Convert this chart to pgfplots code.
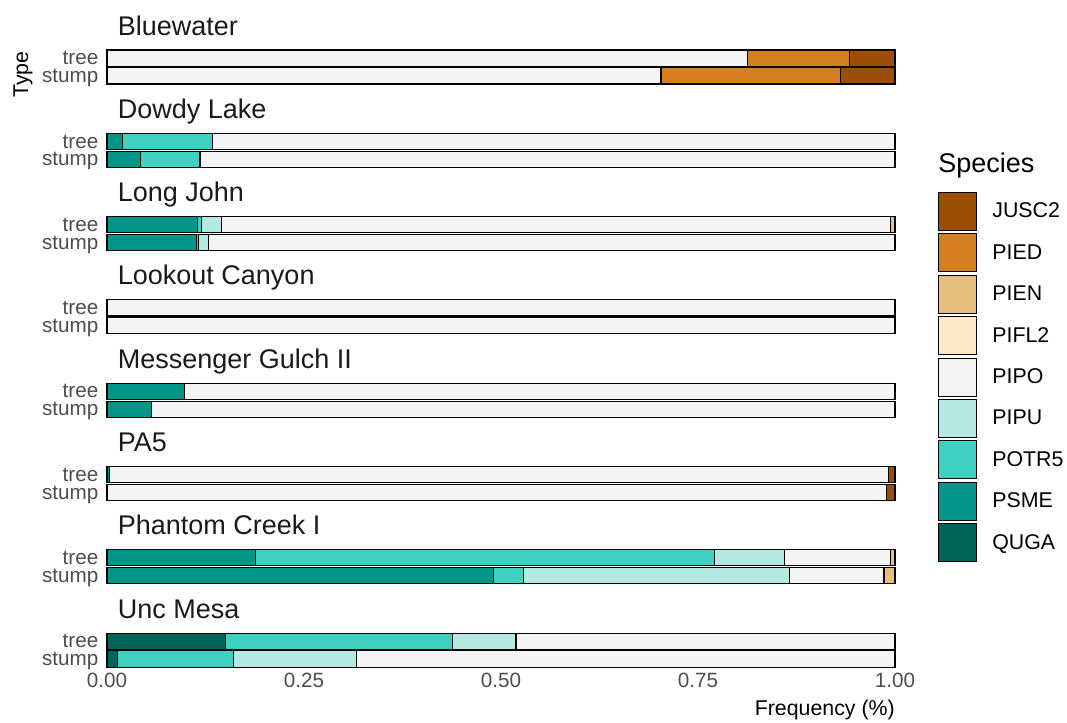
\documentclass[border=0pt]{standalone}
\usepackage{fontspec}
\setmainfont{Liberation Sans}
\usepackage{pgfplots}
\usepackage{pgfplotstable}
\pgfplotsset{compat=1.18}
\usepgfplotslibrary{groupplots}

\definecolor{cJUSC2}{HTML}{9C4F02}
\definecolor{cPIED}{HTML}{D48020}
\definecolor{cPIEN}{HTML}{E6BE7D}
\definecolor{cPIFL2}{HTML}{FEE8C8}
\definecolor{cPIPO}{HTML}{F4F4F4}
\definecolor{cPIPU}{HTML}{B4E8E2}
\definecolor{cPOTR5}{HTML}{3ED0C0}
\definecolor{cPSME}{HTML}{00968A}
\definecolor{cQUGA}{HTML}{00645A}
\definecolor{tickgray}{HTML}{4D4D4D}
\definecolor{stripgray}{HTML}{1A1A1A}

% rows: y=1 stump, y=2 tree
\pgfplotstableread{
y QUGA PSME POTR5 PIPU PIPO PIFL2 PIEN PIED JUSC2
1 0 0 0 0 0.703 0 0 0.228 0.069
2 0 0 0 0 0.813 0 0 0.129 0.058
}\tBluewater
\pgfplotstableread{
y QUGA PSME POTR5 PIPU PIPO PIFL2 PIEN PIED JUSC2
1 0 0.043 0.075 0 0.882 0 0 0 0
2 0 0.020 0.114 0 0.866 0 0 0 0
}\tDowdy
\pgfplotstableread{
y QUGA PSME POTR5 PIPU PIPO PIFL2 PIEN PIED JUSC2
1 0 0.113 0.003 0.013 0.871 0 0 0 0
2 0 0.115 0.005 0.025 0.849 0 0.006 0 0
}\tLongJohn
\pgfplotstableread{
y QUGA PSME POTR5 PIPU PIPO PIFL2 PIEN PIED JUSC2
1 0 0 0 0 1 0 0 0 0
2 0 0 0 0 1 0 0 0 0
}\tLookout
\pgfplotstableread{
y QUGA PSME POTR5 PIPU PIPO PIFL2 PIEN PIED JUSC2
1 0 0.056 0 0 0.944 0 0 0 0
2 0 0.098 0 0 0.902 0 0 0 0
}\tMessenger
\pgfplotstableread{
y QUGA PSME POTR5 PIPU PIPO PIFL2 PIEN PIED JUSC2
1 0 0 0 0 0.989 0 0 0 0.011
2 0 0.003 0 0 0.989 0 0 0 0.008
}\tPA
\pgfplotstableread{
y QUGA PSME POTR5 PIPU PIPO PIFL2 PIEN PIED JUSC2
1 0 0.490 0.039 0.337 0.120 0 0.014 0 0
2 0 0.188 0.583 0.089 0.134 0 0.006 0 0
}\tPhantom
\pgfplotstableread{
y QUGA PSME POTR5 PIPU PIPO PIFL2 PIEN PIED JUSC2
1 0.013 0 0.147 0.157 0.683 0 0 0 0
2 0.150 0 0.288 0.081 0.481 0 0 0 0
}\tUnc

\newcommand{\panel}[1]{%
  \pgfplotsinvokeforeach{QUGA,PSME,POTR5,PIPU,PIPO,PIFL2,PIEN,PIED,JUSC2}{%
    \addplot[fill=c##1, draw=black] table[x=##1, y=y] {#1};}%
}

\pgfplotsset{
  sqlegend/.style={legend image code/.code={%
    \draw[##1, draw=black, line width=0.75pt] (0pt,-14.25pt) rectangle (28.5pt,14.25pt);}},
}

\begin{document}
\begin{tikzpicture}
\begin{groupplot}[
  group style={group size=1 by 8, vertical sep=34.28pt,
    xticklabels at=edge bottom, xlabels at=edge bottom},
  width=591pt, height=28.19pt, scale only axis,
  xmin=0, xmax=1, ymin=0.45, ymax=2.55,
  xbar stacked, /pgf/bar width=0.9,
  every axis plot post/.append style={sqlegend, line width=0.8pt},
  ytick={1,2}, yticklabels={stump,tree},
  xtick={0,0.25,0.5,0.75,1}, xticklabels={0.00,0.25,0.50,0.75,1.00},
  axis line style={draw=none}, major tick length=0pt, tick style={draw=none},
  ticklabel style={font=\fontsize{15.5}{18}\selectfont, text=tickgray},
  yticklabel style={text depth=0pt, inner sep=0pt, xshift=-6.3pt},
  clip=false,
  title style={at={(axis description cs:0,1)}, anchor=base west, xshift=8pt, yshift=3.9pt,
    inner sep=0pt, font=\fontsize{20.25}{24}\selectfont, text=stripgray},
  xlabel style={at={(axis description cs:1,0)}, anchor=base east, yshift=-34.65pt,
    inner sep=0pt, font=\fontsize{16}{19}\selectfont},
]
\nextgroupplot[title={Bluewater},
  legend entries={QUGA,PSME,POTR5,PIPU,PIPO,PIFL2,PIEN,PIED,JUSC2},
  reverse legend, legend cell align=left,
  legend style={at={(axis description cs:1.0546,-2.8175)}, anchor=north west,
    draw=none, fill=none, inner sep=0pt, outer sep=0pt,
    row sep=1.85pt, column sep=11.5pt,
    font=\fontsize{16}{19}\selectfont, nodes={inner sep=0pt}}]
\panel{\tBluewater}
\coordinate (tl) at (axis description cs:0,1);
\node[rotate=90, inner sep=0pt, font=\fontsize{16}{19}\selectfont] at (axis description cs:-0.1065,0.30) {Type};
\node[anchor=base west, inner sep=0pt, font=\fontsize{20.25}{24}\selectfont] at (axis description cs:1.0546,-2.320) {Species};
\nextgroupplot[title={Dowdy Lake}]
\panel{\tDowdy}
\nextgroupplot[title={Long John}]
\panel{\tLongJohn}
\nextgroupplot[title={Lookout Canyon}]
\panel{\tLookout}
\nextgroupplot[title={Messenger Gulch II}]
\panel{\tMessenger}
\nextgroupplot[title={PA5}]
\panel{\tPA}
\nextgroupplot[title={Phantom Creek I}]
\panel{\tPhantom}
\nextgroupplot[title={Unc Mesa}, xlabel={Frequency (\%)}]
\panel{\tUnc}
\end{groupplot}
\pgfresetboundingbox
\path (tl) ++(-80.25pt,36.15pt) rectangle ++(800.25pt,-541.5pt);
\end{tikzpicture}
\end{document}
